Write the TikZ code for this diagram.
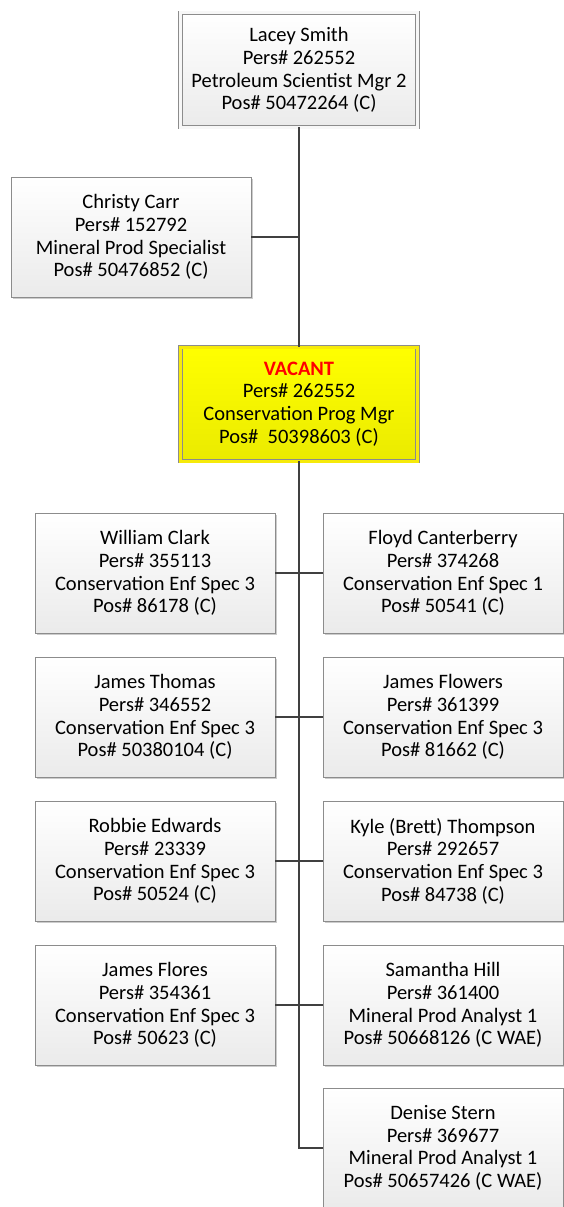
\documentclass[tikz,border=0pt]{standalone}
\usepackage{fontspec}
\setmainfont{Carlito}
\usetikzlibrary{shadows}
\definecolor{BoxClr}{rgb}{0.55,0.55,0.55}
\definecolor{LinkClr}{rgb}{0.25,0.25,0.25}
\definecolor{VacantClr}{rgb}{1,0,0}

\begin{document}
\begin{tikzpicture}[x=1pt,y=-1pt,
  person/.style={draw=BoxClr,line width=.8pt,top color=white,bottom color=black!8,
    minimum width=240pt,minimum height=120pt,inner sep=0pt,align=center,
    font=\fontsize{20.5}{22.7}\selectfont,
    drop shadow={shadow xshift=1.5pt,shadow yshift=-1.5pt,opacity=.2,fill=black}},
  boss/.style={person,double=black!3,double distance=3pt,
    minimum width=237pt,minimum height=114pt},
  link/.style={draw=LinkClr,line width=1.6pt}]
\useasboundingbox (0,0) rectangle (563,1207);

\node[boss] (lsmith) at (299,70) {Lacey Smith\\Pers\# 262552\\Petroleum Scientist Mgr 2\\Pos\# 50472264 (C)};
\node[person] (ccarr) at (131,237) {Christy Carr\\Pers\# 152792\\Mineral Prod Specialist\\Pos\# 50476852 (C)};
\node[boss,top color=yellow,bottom color=yellow!92!black,double=yellow!96!black] (vacant) at (299,404)
  {\textcolor{VacantClr}{\textbf{VACANT}}\\Pers\# 262552\\Conservation Prog Mgr\\Pos\#\ \ 50398603 (C)};

\node[person] (wclark) at (155,573) {William Clark\\Pers\# 355113\\Conservation Enf Spec 3\\Pos\# 86178 (C)};
\node[person] (fcanterberry) at (443,573) {Floyd Canterberry\\Pers\# 374268\\Conservation Enf Spec 1\\Pos\# 50541 (C)};
\node[person] (jthomas) at (155,717) {James Thomas\\Pers\# 346552\\Conservation Enf Spec 3\\Pos\# 50380104 (C)};
\node[person] (jflowers) at (443,717) {James Flowers\\Pers\# 361399\\Conservation Enf Spec 3\\Pos\# 81662 (C)};
\node[person] (redwards) at (155,861) {Robbie Edwards\\Pers\# 23339\\Conservation Enf Spec 3\\Pos\# 50524 (C)};
\node[person] (bthompson) at (443,861) {Kyle (Brett) Thompson\\Pers\# 292657\\Conservation Enf Spec 3\\Pos\# 84738 (C)};
\node[person] (jflores) at (155,1005) {James Flores\\Pers\# 354361\\Conservation Enf Spec 3\\Pos\# 50623 (C)};
\node[person] (shill) at (443,1005) {Samantha Hill\\Pers\# 361400\\Mineral Prod Analyst 1\\Pos\# 50668126 (C WAE)};
\node[person] (dstern) at (443,1148) {Denise Stern\\Pers\# 369677\\Mineral Prod Analyst 1\\Pos\# 50657426 (C WAE)};

\draw[link] (lsmith) -- (vacant);
\draw[link] (ccarr.east) -- (ccarr.east -| lsmith.south);
\draw[link] (vacant.south) |- (dstern.west);
\draw[link] (wclark.east) -- (fcanterberry.west);
\draw[link] (jthomas.east) -- (jflowers.west);
\draw[link] (redwards.east) -- (bthompson.west);
\draw[link] (jflores.east) -- (shill.west);

\end{tikzpicture}
\end{document}
